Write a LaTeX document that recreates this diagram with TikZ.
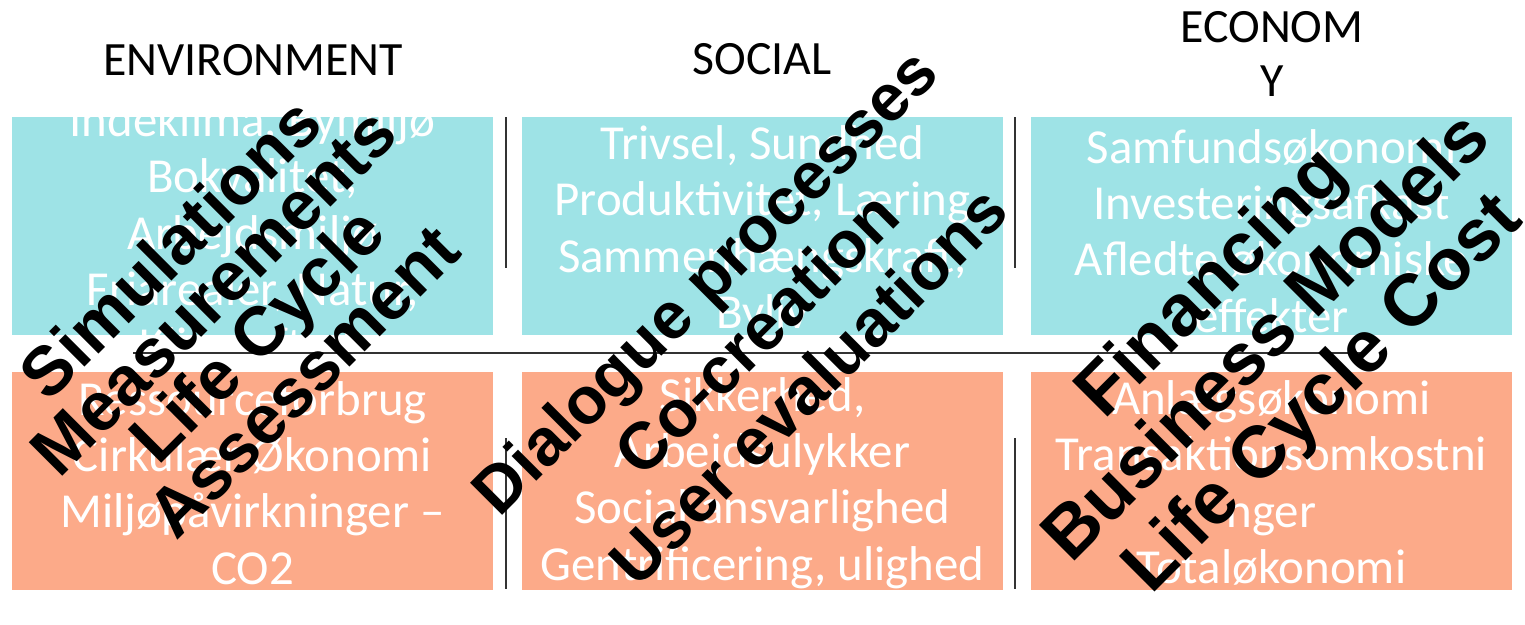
\documentclass[tikz,border=0pt]{standalone}
\usepackage{fontspec}
\setmainfont{Carlito}
\newfontfamily\arialfont{Liberation Sans}
\usepackage{tikz}
\usetikzlibrary{calc}

\definecolor{boxteal}{RGB}{158,227,230}
\definecolor{boxsalmon}{RGB}{252,170,137}

\tikzset{
  topcell/.style={fill=boxteal, minimum width=4.81cm, minimum height=2.18cm, inner sep=0pt},
  botcell/.style={fill=boxsalmon, minimum width=4.81cm, minimum height=2.18cm, inner sep=0pt},
  celltext/.style={inner sep=0pt, align=center, text=white, font=\fontsize{13.9}{16}\selectfont},
  head/.style={inner sep=0pt, align=center, font=\fontsize{13.6}{15.4}\selectfont},
  method/.style 2 args={inner sep=0pt, align=center, rotate=45, font=\arialfont\bfseries\fontsize{#1}{#2}\selectfont},
  sep/.style={line width=0.6pt, black!80}
}

\begin{document}
\begin{tikzpicture}[x=0.01cm,y=-0.01cm]

\useasboundingbox (0,0) rectangle (1525,624);

  \node[head] (env) at (253,60) {ENVIRONMENT};
  \node[head] (soc) at (762,59) {SOCIAL};
  \node[head] (eco) at (1272,54) {ECONOM\\Y};

    \node[topcell] (envtop) at (252.5,226) {};
    \node[topcell] (soctop) at (762.5,226) {};
    \node[topcell] (ecotop) at (1271.5,226) {};
    \node[botcell] (envbot) at (252.5,481) {};
    \node[botcell] (socbot) at (762.5,481) {};
    \node[botcell] (ecobot) at (1271.5,481) {};

    \node[celltext] (envtoptxt) at (252.5,236) {Indeklima, Bymilj\o\\Bokvalitet,\\Arbejdsmilj\o\\Friarealer, Natur,\\Klimaaftryk};
    \node[celltext] (soctoptxt) at (762.5,231) {Trivsel, Sundhed\\Produktivitet, L\ae ring\\Sammenh\ae ngskraft,\\Byliv};
    \node[celltext] (ecotoptxt) at (1271.5,231) {Samfunds\o konomi\\Investeringsafkast\\Afledte \o konomiske\\effekter};
    \node[celltext] (envbottxt) at (252.5,483) {Ressourceforbrug\\Cirkul\ae r \O konomi\\Milj\o p\aa virkninger --\\CO2};
    \node[celltext] (socbottxt) at (762.5,483) {Sikkerhed,\\Arbejdsulykker\\Social ansvarlighed\\Gentrificering, ulighed};
    \node[celltext] (ecobottxt) at (1271.5,483) {Anl\ae gs\o konomi\\Transaktionsomkostni\\nger\\Total\o konomi};

    \coordinate (va) at (506,117);
    \coordinate (vb) at (506,268);
    \coordinate (vc) at (506,438);
    \coordinate (vd) at (506,589);
    \coordinate (wa) at (1015,117);
    \coordinate (wb) at (1015,268);
    \coordinate (wc) at (1015,438);
    \coordinate (wd) at (1015,589);
    \coordinate (hl) at (133,353);
    \coordinate (hr) at (1362,353);

    \draw[sep] (va) -- (vb);
    \draw[sep] (vc) -- (vd);
    \draw[sep] (wa) -- (wb);
    \draw[sep] (wc) -- (wd);
    \draw[sep] (hl) -- (hr);

    \node[method={19.6}{17.4}] (m1) at (236,314) {Simulations\\Measurements\\Life Cycle\\Assessment};
    \node[method={18.8}{21}] (m2) at (756,333) {Dialogue processes\\Co-creation\\User evaluations};
    \node[method={20.8}{22.3}] (m3) at (1269,340) {Financing\\Business Models\\Life Cycle Cost};

\end{tikzpicture}
\end{document}
